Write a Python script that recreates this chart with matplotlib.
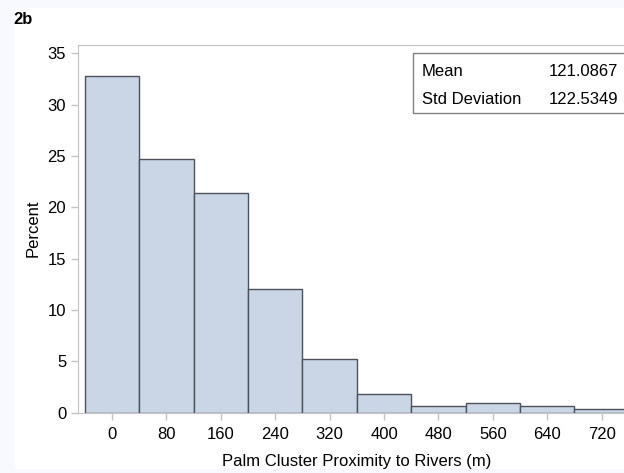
import matplotlib.pyplot as plt
from matplotlib.patches import Rectangle

plt.rcParams['font.family'] = ['Liberation Sans', 'DejaVu Sans']

# histogram bins (midpoints, m) and percent of clusters
bin_mids = [0, 80, 160, 240, 320, 400, 480, 560, 640, 720]
percent = [32.8, 24.7, 21.4, 12.05, 5.25, 1.8, 0.65, 0.95, 0.65, 0.35]
bin_width = 80

stat_names = ['Mean', 'Std Deviation']
stat_values = ['121.0867', '122.5349']

fs = 12

fig = plt.figure(figsize=(6.24, 4.73), dpi=100)
fig.patch.set_facecolor('#f7f9fe')
fig.add_artist(Rectangle((15 / 624, 4 / 473), 1, 461 / 473,
                         transform=fig.transFigure, facecolor='white',
                         edgecolor='none', zorder=-5))

ax = fig.add_axes([0.125, 0.1279, 0.8936, 0.777])
ax.set_zorder(1)
ax.bar(bin_mids, percent, width=bin_width, color='#cad5e5',
       edgecolor='#4d5159', linewidth=1.0, zorder=2)

ax.set_xlim(-50, 770)
ax.set_ylim(0, 35.8)
ax.set_xticks(bin_mids)
ax.set_yticks(range(0, 36, 5))
for s in ax.spines.values():
    s.set_color('#c4c4c4')
ax.tick_params(colors='#c4c4c4', labelcolor='black', labelsize=fs,
               length=5, width=1)
ax.tick_params(axis='x', pad=5.5)
ax.set_ylabel('Percent', fontsize=fs, labelpad=5)
ax.set_xlabel('Palm Cluster Proximity to Rivers (m)', fontsize=fs, labelpad=8.5)

# statistics inset box
ax.add_patch(Rectangle((413 / 624, (473 - 113) / 473), 0.4, 60 / 473,
                       transform=fig.transFigure, facecolor='white',
                       edgecolor='#808080', linewidth=1, zorder=5,
                       clip_on=False))
for i, (n, v) in enumerate(zip(stat_names, stat_values)):
    y = 1 - (72 + i * 27) / 473
    ax.text(422 / 624, y, n, fontsize=fs, va='center', zorder=6,
            transform=fig.transFigure)
    ax.text(549 / 624, y, v, fontsize=fs, va='center', zorder=6,
            transform=fig.transFigure)

fig.text(13 / 624, 1 - 19 / 473, '2b', fontsize=12, fontweight='bold',
         va='center')

fig.savefig('out.png', dpi=100, facecolor=fig.get_facecolor())
